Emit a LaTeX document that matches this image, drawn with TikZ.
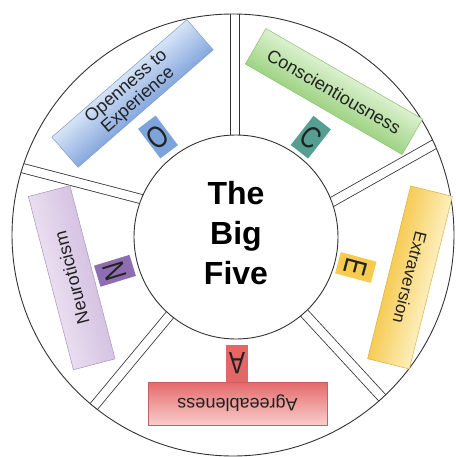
\documentclass[tikz,border=0pt]{standalone}
\usepackage{graphicx}
\usepackage{fontspec}
\setmainfont{Liberation Sans}
\usetikzlibrary{calc}

\definecolor{oLight}{HTML}{D6E4F6}
\definecolor{oDark}{HTML}{89AADF}
\definecolor{oEdge}{HTML}{7E9CCB}
\definecolor{oLet}{HTML}{7DA3DC}
\definecolor{cLight}{HTML}{DAF0CD}
\definecolor{cDark}{HTML}{A0D486}
\definecolor{cEdge}{HTML}{8DBF76}
\definecolor{cLet}{HTML}{569E92}
\definecolor{eLight}{HTML}{FDEDB8}
\definecolor{eDark}{HTML}{F6CC55}
\definecolor{eEdge}{HTML}{D6B14E}
\definecolor{eLet}{HTML}{F6CB4F}
\definecolor{aLight}{HTML}{F8C9C9}
\definecolor{aDark}{HTML}{E46B6B}
\definecolor{aEdge}{HTML}{C46262}
\definecolor{aLet}{HTML}{E26868}
\definecolor{nLight}{HTML}{E9DDF0}
\definecolor{nDark}{HTML}{D6C4E3}
\definecolor{nEdge}{HTML}{A993BE}
\definecolor{nLet}{HTML}{8F6DB1}
\definecolor{ink}{HTML}{222222}

\newcommand\bigletter[1]{\scalebox{0.78}[1]{#1}}

% gradient fill of a rotated box: x, y, angle, width, height, light (text top), dark
\newcommand\gradfill[7]{%
  \begin{scope}[shift={(#1,#2)}, rotate=#3, y=1pt]
    \clip ({-#4/2},{-#5/2}) rectangle ({#4/2},{#5/2});
    \foreach \k in {0,...,23}{%
      \pgfmathsetmacro\pct{100*\k/23}%
      \fill[#6!\pct!#7] ({-#4/2},{-#5/2+#5*\k/24}) rectangle ({#4/2},{-#5/2+#5*(\k+1)/24+0.4});
    }
  \end{scope}}

\begin{document}
\begin{tikzpicture}[x=1pt,y=-1pt,
  spoke/.style={draw=black!80, line width=0.8pt, double=white, double distance=8.5pt},
  ring/.style={draw=black!80, line width=0.9pt},
  mainbox/.style={shape=rectangle, inner sep=0pt, draw=#1, line width=0.5pt,
     text=ink, align=center, font=\fontsize{18}{19}\selectfont},
  letterbox/.style={shape=rectangle, minimum width=22pt, minimum height=37pt,
     inner sep=0pt, fill=#1, text=ink, font=\fontsize{31}{31}\selectfont},
  title/.style={align=center, text=black, font=\fontsize{32}{40}\selectfont\bfseries}
]
\useasboundingbox (0,0) rectangle (455,457);
\fill[white] (0,0) rectangle (455,457);

\coordinate (oc) at (233,235);
\coordinate (ic) at (236,237);

% spoke guide points
\coordinate (s1a) at (235,160); \coordinate (s1b) at (235,13);
\coordinate (s2a) at (332.5,201.7); \coordinate (s2b) at (437.5,142.5);
\coordinate (s3a) at (305,314); \coordinate (s3b) at (387,403);
\coordinate (s4a) at (169,316); \coordinate (s4b) at (91.7,409);
\coordinate (s5a) at (138.3,198.3); \coordinate (s5b) at (20,167.5);

\begin{scope}
  \clip (oc) circle[radius=221pt];
  \foreach \s in {s1,s2,s3,s4,s5}
    \draw[spoke] ($(\s a)!-0.3!(\s b)$) -- ($(\s a)!1.4!(\s b)$);
\end{scope}

\draw[ring] (oc) circle[radius=221pt];
\node[circle, minimum size=204pt, inner sep=0pt, fill=white, ring] (hub) at (ic) {};
\node[title] (bigfive) at (236,233.5) {The\\Big\\Five};

% main boxes: gradient fills, then framed text nodes
\gradfill{132.5}{93.5}{41}{179}{40}{oLight}{oDark}
\gradfill{334}{91.5}{-30}{181}{41}{cLight}{cDark}
\gradfill{410}{277.5}{-104}{178}{43}{eLight}{eDark}
\gradfill{237.5}{403.5}{180}{179}{43}{aLight}{aDark}
\gradfill{71.7}{277.7}{104.6}{179}{43}{nLight}{nDark}

\node[mainbox=oEdge, minimum width=179pt, minimum height=40pt, rotate=41]
  (open) at (132.5,93.5) {Openness to\\[-1pt]Experience};
\node[mainbox=cEdge, minimum width=181pt, minimum height=41pt, rotate=-30]
  (consc) at (334,91.5) {Conscientiousness};
\node[mainbox=eEdge, minimum width=178pt, minimum height=43pt, rotate=-104,
  font=\fontsize{17}{18}\selectfont]
  (extra) at (410,277.5) {Extraversion};
\node[mainbox=aEdge, minimum width=179pt, minimum height=43pt, rotate=180]
  (agree) at (237.5,403.5) {Agreeableness};
\node[mainbox=nEdge, minimum width=179pt, minimum height=43pt, rotate=104.6]
  (neuro) at (71.7,277.7) {Neuroticism};

% letter boxes
\node[letterbox=oLet, rotate=37]  (lo) at (158,137)     {\bigletter{O}};
\node[letterbox=cLet, rotate=-38] (lc) at (310.8,137.2) {\bigletter{C}};
\node[letterbox=eLet, rotate=-105](le) at (355.8,267.5) {\bigletter{E}};
\node[letterbox=aLet, rotate=180] (la) at (237,363)     {\bigletter{A}};
\node[letterbox=nLet, rotate=107] (ln) at (115,270.8)   {\bigletter{N}};
\end{tikzpicture}
\end{document}
